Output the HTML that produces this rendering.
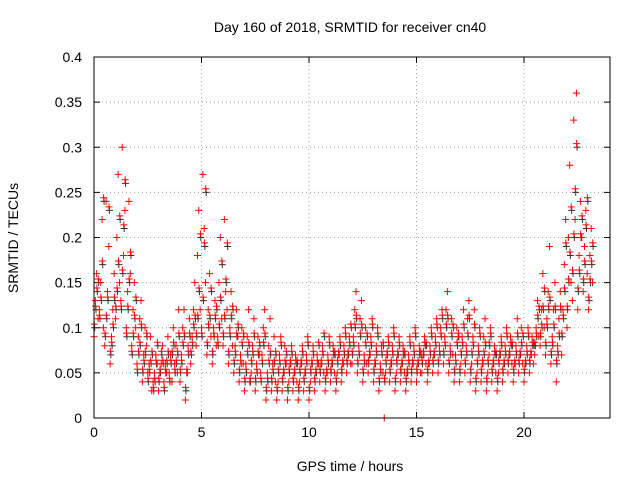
<!DOCTYPE html>
<html><head><meta charset="utf-8"><style>
html,body{margin:0;padding:0;background:#fff}
svg{display:block;font-family:"Liberation Sans",sans-serif}
</style></head><body>
<svg id="chart" width="640" height="480">
<text x="350" y="32" font-size="14" text-anchor="middle">Day 160 of 2018, SRMTID for receiver cn40</text>
<text x="350" y="471" font-size="14" text-anchor="middle">GPS time / hours</text>
<text transform="translate(18,238) rotate(-90)" font-size="14" text-anchor="middle">SRMTID / TECUs</text>
<g id="grid"></g><g id="ticks"></g><g id="pts"></g>
<rect x="94" y="57" width="516" height="361" fill="none" stroke="#000" stroke-width="1"/>
</svg>
<script>
const stepHours=[0,0.25,0.5,0.75,1,1.25,1.5,1.75,2,2.25,2.5,2.75,3,3.25,3.5,3.75,4,4.25,4.5,4.75,5,5.25,5.5,5.75,6,6.25,6.5,6.75,7,7.25,7.5,7.75,8,8.25,8.5,8.75,9,9.25,9.5,9.75,10,10.25,10.5,10.75,11,11.25,11.5,11.75,12,12.25,12.5,12.75,13,13.25,13.5,13.75,14,14.25,14.5,14.75,15,15.25,15.5,15.75,16,16.25,16.5,16.75,17,17.25,17.5,17.75,18,18.25,18.5,18.75,19,19.25,19.5,19.75,20,20.25,20.5,20.75,21,21.25,21.5,21.75,22,22.25,22.5,22.75,23];
const srmtid=[
[.09,.13,.16,.11],[.12,.15,.22,.10],[.08,.24,.14,.19],[.06,.09,.12,.16],[.11,.20,.27,.15],[.13,.30,.18,.23],[.10,.14,.24,.16],[.08,.12,.15,.10],[.06,.09,.11,.13],[.04,.07,.10,.08],
[.05,.06,.09,.03],[.04,.05,.07,.06],[.03,.05,.06,.08],[.04,.06,.05,.09],[.05,.07,.04,.10],[.06,.08,.05,.12],[.04,.07,.10,.12],[.02,.05,.08,.11],[.06,.09,.12,.15],[.08,.18,.23,.12],
[.10,.27,.21,.15],[.07,.12,.16,.09],[.06,.10,.13,.08],[.09,.15,.20,.11],[.08,.22,.14,.12],[.06,.10,.14,.08],[.05,.08,.12,.09],[.04,.07,.10,.06],[.03,.06,.09,.12],[.04,.05,.08,.11],
[.03,.06,.09,.07],[.05,.07,.10,.12],[.02,.05,.08,.11],[.03,.06,.09,.04],[.02,.04,.07,.09],[.03,.05,.08,.06],[.02,.04,.06,.08],[.03,.05,.07,.04],[.02,.04,.06,.08],[.03,.05,.07,.09],
[.02,.04,.06,.08],[.03,.05,.07,.06],[.04,.06,.08,.05],[.03,.05,.07,.09],[.04,.06,.08,.05],[.03,.05,.07,.09],[.04,.06,.08,.10],[.05,.07,.09,.06],[.06,.09,.12,.14],[.05,.08,.11,.13],
[.04,.07,.10,.06],[.05,.07,.09,.11],[.04,.06,.08,.10],[.03,.06,.08,.05],[.00,.05,.07,.09],[.04,.06,.08,.10],[.03,.05,.07,.09],[.04,.06,.08,.05],[.03,.05,.07,.09],[.04,.06,.08,.10],
[.04,.06,.08,.05],[.05,.07,.09,.06],[.04,.06,.08,.10],[.05,.07,.09,.11],[.05,.08,.10,.12],[.06,.09,.12,.14],[.05,.08,.11,.07],[.04,.07,.10,.09],[.04,.06,.09,.12],[.05,.08,.11,.13],
[.04,.06,.09,.12],[.03,.05,.08,.10],[.04,.06,.09,.11],[.03,.05,.07,.10],[.04,.06,.08,.05],[.03,.05,.07,.09],[.04,.06,.08,.10],[.05,.07,.09,.06],[.04,.06,.08,.11],[.05,.07,.10,.06],
[.04,.06,.08,.10],[.05,.07,.09,.06],[.07,.10,.13,.09],[.08,.12,.16,.10],[.07,.11,.14,.19],[.06,.09,.12,.15],[.04,.08,.11,.14],[.07,.12,.17,.22],[.10,.20,.28,.15],[.13,.33,.22,.36],
[.12,.18,.24,.20],[.14,.19,.23,.16],[.12,.18,.21,.15]];
const srmtidExtra=[
[.10,.12,.14,.15],[.11,.13,.17,.24],[.09,.11,.13,.23],[.07,.08,.10,.13],[.12,.14,.17,.22],[.12,.16,.21,.26],[.09,.12,.15,.18],[.07,.09,.11,.13],[.05,.07,.08,.10],[.05,.06,.07,.09],
[.04,.05,.06,.07],[.03,.04,.06,.08],[.04,.05,.07,.06],[.03,.05,.06,.07],[.04,.06,.07,.08],[.05,.06,.07,.09],[.05,.06,.08,.09],[.03,.05,.07,.09],[.07,.08,.10,.11],[.09,.11,.14,.20],
[.09,.13,.19,.25],[.08,.10,.11,.14],[.07,.09,.11,.12],[.08,.10,.13,.17],[.09,.11,.15,.19],[.07,.09,.11,.12],[.06,.07,.09,.10],[.05,.06,.08,.09],[.04,.05,.07,.08],[.04,.06,.07,.09],
[.04,.05,.07,.08],[.04,.06,.08,.09],[.03,.04,.06,.07],[.04,.05,.06,.07],[.03,.05,.06,.08],[.04,.05,.06,.07],[.03,.05,.06,.07],[.04,.05,.06,.06],[.03,.05,.06,.07],[.04,.05,.06,.08],
[.03,.05,.06,.07],[.04,.05,.06,.08],[.05,.06,.07,.09],[.04,.05,.06,.08],[.05,.06,.07,.07],[.04,.06,.07,.08],[.05,.06,.07,.09],[.06,.07,.08,.10],[.07,.08,.10,.11],[.06,.07,.09,.10],
[.05,.06,.08,.09],[.06,.07,.08,.10],[.05,.06,.07,.09],[.04,.05,.07,.08],[.04,.06,.07,.08],[.05,.06,.07,.09],[.04,.06,.07,.08],[.05,.06,.07,.07],[.04,.05,.06,.08],[.05,.06,.07,.09],
[.05,.06,.07,.07],[.06,.07,.08,.08],[.05,.06,.07,.09],[.06,.07,.08,.10],[.06,.07,.09,.11],[.07,.08,.10,.11],[.06,.07,.09,.10],[.05,.06,.08,.09],[.05,.07,.08,.10],[.06,.07,.09,.11],
[.05,.07,.08,.10],[.04,.06,.07,.09],[.05,.06,.07,.08],[.04,.06,.08,.09],[.05,.06,.07,.07],[.04,.06,.07,.08],[.05,.06,.07,.09],[.06,.07,.08,.08],[.05,.06,.07,.09],[.06,.07,.08,.09],
[.05,.06,.07,.09],[.06,.07,.08,.08],[.08,.09,.11,.12],[.09,.10,.12,.14],[.08,.10,.12,.13],[.07,.08,.10,.12],[.06,.07,.09,.12],[.09,.11,.14,.19],[.12,.15,.18,.23],[.16,.20,.25,.30],
[.14,.16,.20,.22],[.15,.17,.21,.24],[.13,.15,.17,.19]];
const xTicks=["0","5","10","15","20"];
const yTicks=["0","0.05","0.1","0.15","0.2","0.25","0.3","0.35","0.4"];

const NS="http://www.w3.org/2000/svg";
const X=h=>94+h*(516/24), Y=v=>418-v*(361/0.4);
const grid=document.getElementById('grid'),ticks=document.getElementById('ticks'),pts=document.getElementById('pts');
function mk(tag,attrs,parent){const e=document.createElementNS(NS,tag);for(const k in attrs)e.setAttribute(k,attrs[k]);parent.appendChild(e);return e;}
xTicks.forEach(t=>{const x=X(+t);
 const g=mk('line',{x1:x,x2:x,y1:57,y2:418,stroke:'#a0a0a0','stroke-dasharray':'1,3'},grid);
 
 
 mk('line',{x1:x,x2:x,y1:418,y2:412,stroke:'#000'},ticks);
 mk('line',{x1:x,x2:x,y1:57,y2:63,stroke:'#000'},ticks);
 const l=mk('text',{x:x,y:437,'font-size':14,'text-anchor':'middle'},ticks);l.textContent=t;
 
 
});
yTicks.forEach(t=>{const y=Y(+t);
 const g=mk('line',{x1:94,x2:610,y1:y,y2:y,stroke:'#a0a0a0','stroke-dasharray':'1,3'},grid);
 
 
 mk('line',{x1:94,x2:100,y1:y,y2:y,stroke:'#000'},ticks);
 mk('line',{x1:610,x2:604,y1:y,y2:y,stroke:'#000'},ticks);
 const l=mk('text',{x:82,y:y+5,'font-size':14,'text-anchor':'end'},ticks);l.textContent=t;
 
 
});
function plus(h,v,color){
 const x=X(h),y=Y(v);
 const p=mk('path',{d:`M${x-3.5},${y}h7M${x},${y-3.5}v7`,stroke:color,'stroke-width':1,fill:'none'},pts);
 
 
}
stepHours.forEach((h,i)=>{srmtidExtra[i].forEach((v,j)=>plus(h+0.03+j*0.0625,v,'#333'));});
stepHours.forEach((h,i)=>{srmtidExtra[i].forEach((v,j)=>plus(h+0.01+j*0.0625,v+0.004,'#f00'));});
stepHours.forEach((h,i)=>{srmtid[i].forEach((v,j)=>plus(h+j*0.0625,v,'#f00'));});
</script>
</body></html>
